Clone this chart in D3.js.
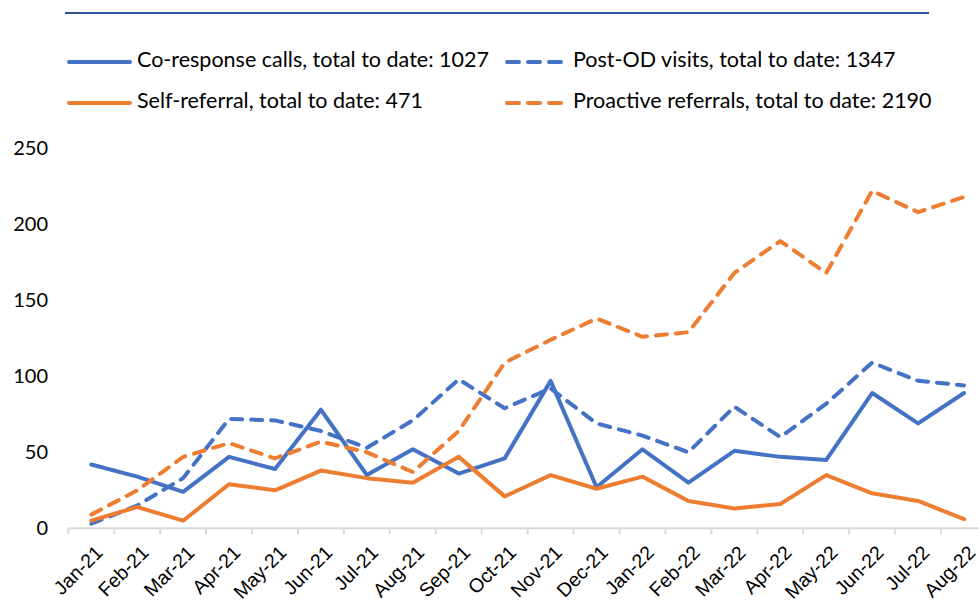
<!DOCTYPE html>
<html><head><meta charset="utf-8">
<script src="https://cdn.jsdelivr.net/npm/d3@7"></script>
<style>body{margin:0;background:#fff}svg{display:block;font-family:Lato,"Open Sans",sans-serif}</style>
</head><body><svg id="c" width="979" height="607"></svg>
<script>
const months = ["Jan-21","Feb-21","Mar-21","Apr-21","May-21","Jun-21","Jul-21","Aug-21","Sep-21","Oct-21","Nov-21","Dec-21","Jan-22","Feb-22","Mar-22","Apr-22","May-22","Jun-22","Jul-22","Aug-22"];
const coResponse = [42,34,24,47,39,78,35,52,36,46,97,27,52,30,51,47,45,89,69,89];
const postOD = [3,15,33,72,71,64,53,71,98,79,92,69,61,50,80,60,82,109,97,94];
const selfReferral = [5,14,5,29,25,38,33,30,47,21,35,26,34,18,13,16,35,23,18,6];
const proactive = [9,25,47,56,46,57,50,37,64,109,124,138,126,129,168,189,168,222,208,218];
const yTicks = [0,50,100,150,200,250];
const seriesNames = ["Co-response calls, total to date: 1027","Post-OD visits, total to date: 1347","Self-referral, total to date: 471","Proactive referrals, total to date: 2190"];

const series = [
  {name: seriesNames[0], values: coResponse, color: "#4472C4", dash: null},
  {name: seriesNames[1], values: postOD, color: "#4472C4", dash: "11,9"},
  {name: seriesNames[2], values: selfReferral, color: "#ED7D31", dash: null},
  {name: seriesNames[3], values: proactive, color: "#ED7D31", dash: "11,9"}
];

const svg = d3.select("#c");
const x = d3.scaleBand().domain(months).range([68.3, 987]);
const y = d3.scaleLinear().domain([0, 250]).range([528.3, 148.3]);

// top rule
svg.append("line").attr("x1",65).attr("x2",929).attr("y1",13).attr("y2",13)
  .attr("stroke","#2F5597").attr("stroke-width",2.2);

// y axis labels
const yAxis = d3.axisLeft(y).tickValues(yTicks).tickSize(0).tickPadding(0);
const gy = svg.append("g").attr("transform","translate(48,0)").call(yAxis);
gy.select(".domain").remove();
gy.selectAll("text").attr("font-size",20).attr("fill","#000").attr("font-family","Lato");

// x axis
const xAxis = d3.axisBottom(x).tickSizeOuter(0).tickSizeInner(0).tickFormat("");
const gx = svg.append("g").attr("transform","translate(0,528.3)").call(xAxis);
gx.select(".domain").attr("stroke","#D9D9D9").attr("stroke-width",2).attr("d","M68.3,0H979");
const bounds = months.map(m=>x(m)).concat([x.range()[1]]);
gx.selectAll(".bt").data(bounds.filter(b=>b<979)).enter().append("line")
  .attr("x1",d=>d).attr("x2",d=>d).attr("y1",0).attr("y2",6)
  .attr("stroke","#D9D9D9").attr("stroke-width",2);
gx.selectAll(".xl").data(months).enter().append("text")
  .attr("transform",d=>`translate(${x(d)+x.bandwidth()/2+9},${22}) rotate(-45)`)
  .attr("text-anchor","end").attr("dominant-baseline","middle")
  .attr("font-size",19.5).attr("fill","#000").text(d=>d);

// lines
const line = d3.line().x((d,i)=>x(months[i])+x.bandwidth()/2).y(d=>y(d));
series.forEach(s=>{
  svg.append("path").datum(s.values).attr("d",line)
    .attr("fill","none").attr("stroke",s.color).attr("stroke-width",4)
    .attr("stroke-linejoin","round").attr("stroke-linecap","round")
    .attr("stroke-dasharray",s.dash);
});

// legend
const legPos = [[67,62],[505,62],[67,103],[505,103]];
series.forEach((s,i)=>{
  const [lx,ly] = legPos[i];
  const len = s.dash ? 58 : 65;
  svg.append("line").attr("x1",lx+2).attr("x2",lx+len-2).attr("y1",ly).attr("y2",ly)
    .attr("stroke",s.color).attr("stroke-width",4).attr("stroke-linecap","round")
    .attr("stroke-dasharray", s.dash ? "12,9" : null);
  svg.append("text").attr("x", s.dash ? lx+68 : lx+70).attr("y",ly)
    .attr("dominant-baseline","middle").attr("font-size",21.5).attr("fill","#000")
    .text(s.name);
});
</script></body></html>
